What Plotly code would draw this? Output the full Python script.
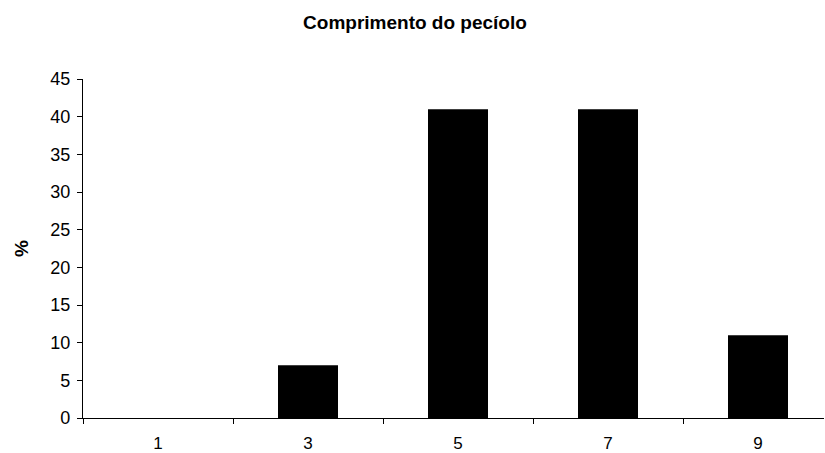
import plotly.graph_objects as go

# Petiole length classes and share of samples (%)
categorias = ["1", "3", "5", "7", "9"]
percentagens = [0, 7, 41, 41, 11]
y_ticks = [0, 5, 10, 15, 20, 25, 30, 35, 40, 45]

fonte = "Liberation Sans, Arial, Helvetica, sans-serif"

fig = go.Figure(
    go.Bar(
        x=categorias,
        y=percentagens,
        marker=dict(color="black", line=dict(width=0)),
        hoverinfo="x+y",
    )
)

fig.update_layout(
    width=825,
    height=453,
    margin=dict(l=83, r=1, t=79, b=35),
    paper_bgcolor="white",
    plot_bgcolor="white",
    bargap=0.6,
    showlegend=False,
    font=dict(family=fonte, size=17, color="black"),
    title=dict(
        text="<b>Comprimento do pecíolo</b>",
        font=dict(family=fonte, size=19, color="black"),
        x=0.503,
        xanchor="center",
        y=0.951,
        yanchor="middle",
    ),
)

fig.update_xaxes(
    type="category",
    range=[-0.5, 4.44],
    automargin=False,
    showline=True,
    linecolor="black",
    linewidth=1.3,
    ticks="outside",
    tickson="boundaries",
    ticklen=5,
    tickcolor="black",
    tickwidth=1,
    ticklabelstandoff=9,
    showgrid=False,
    zeroline=False,
    tickfont=dict(size=17),
)

fig.update_yaxes(
    range=[0, 45],
    tickvals=y_ticks,
    automargin=False,
    showline=True,
    linecolor="black",
    linewidth=1.3,
    ticks="outside",
    ticklen=5,
    tickcolor="black",
    tickwidth=1,
    ticklabelstandoff=3,
    showgrid=False,
    zeroline=False,
    tickfont=dict(size=18),
    title=dict(text="<b>%</b>", font=dict(size=19), standoff=16),
)

fig.write_html("out.html")
